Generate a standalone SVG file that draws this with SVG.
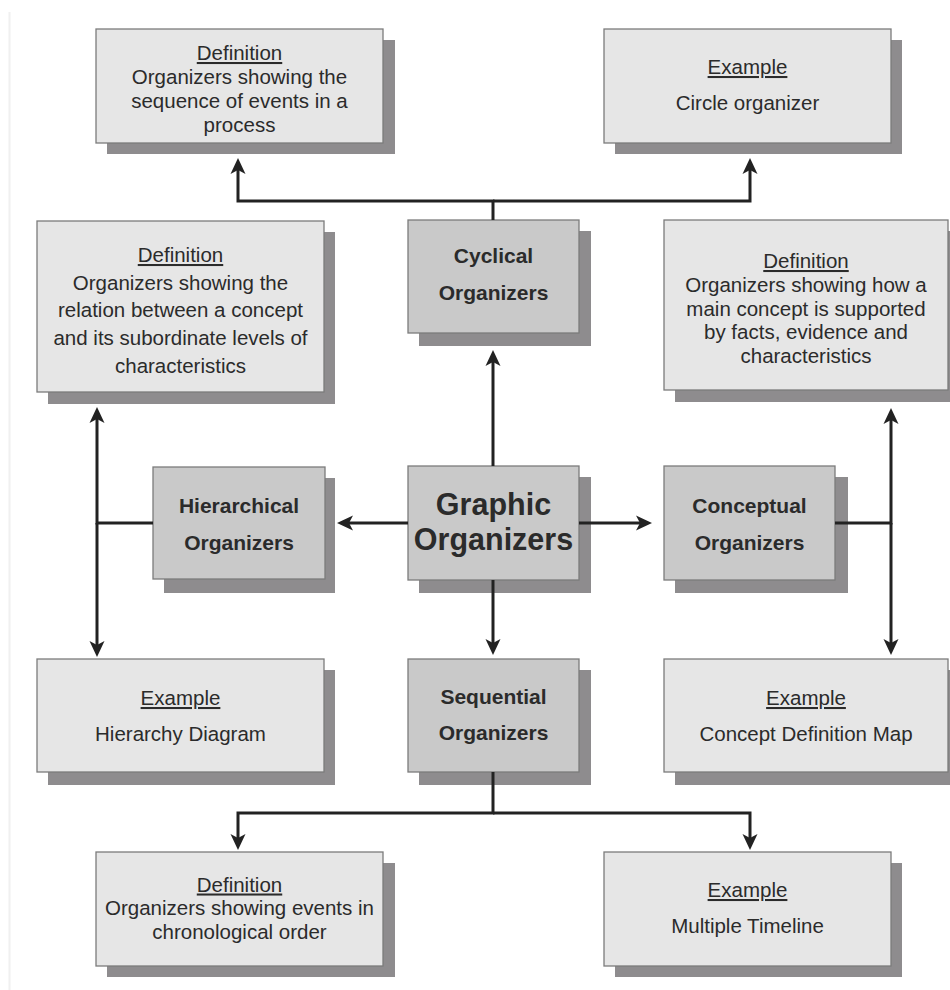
<svg xmlns="http://www.w3.org/2000/svg" width="950" height="990" viewBox="0 0 950 990">
<defs>
<style>
.sh{fill:#8e8c8e}
.lt{fill:#e6e6e6;stroke:#7c7c7c;stroke-width:1.3}
.dk{fill:#c9c9c9;stroke:#7c7c7c;stroke-width:1.3}
text{font-family:"Liberation Sans",Arial,sans-serif;fill:#2b2b2b;text-anchor:middle}
.t{font-size:20.5px}
.u{font-size:20.5px;text-decoration:underline}
.b{font-size:21px;font-weight:bold}
.g{font-size:30.5px;font-weight:bold}
.c{fill:none;stroke:#222;stroke-width:3}
</style>
<marker id="ah" markerUnits="userSpaceOnUse" markerWidth="20" markerHeight="20" viewBox="0 -10 20 20" refX="8" refY="0" orient="auto" overflow="visible">
<path d="M16,0 L0,-7.5 L4,0 L0,7.5 Z" fill="#222"/>
</marker>
</defs>
<rect width="950" height="990" fill="#fff"/>
<line x1="9.5" y1="12" x2="9.5" y2="990" stroke="#f0f0f0" stroke-width="2"/>

<g id="def-cyclical">
<rect class="sh" x="107" y="40" width="288" height="114"/>
<rect class="lt" x="96" y="29" width="287" height="114"/>
<text class="u" x="239.5" y="60">Definition</text>
<text class="t" x="239.5" y="84">Organizers showing the</text>
<text class="t" x="239.5" y="108">sequence of events in a</text>
<text class="t" x="239.5" y="132">process</text>
</g>
<g id="ex-cyclical">
<rect class="sh" x="615" y="40" width="287" height="114"/>
<rect class="lt" x="604" y="29" width="287" height="114"/>
<text class="u" x="747.5" y="74">Example</text>
<text class="t" x="747.5" y="110">Circle organizer</text>
</g>
<g id="def-hierarchical">
<rect class="sh" x="48" y="232" width="287" height="172"/>
<rect class="lt" x="37" y="221" width="287" height="171"/>
<text class="u" x="180.5" y="262">Definition</text>
<text class="t" x="180.5" y="290">Organizers showing the</text>
<text class="t" x="180.5" y="317">relation between a concept</text>
<text class="t" x="180.5" y="345">and its subordinate levels of</text>
<text class="t" x="180.5" y="373">characteristics</text>
</g>
<g id="cyclical">
<rect class="sh" x="419" y="231" width="172" height="115"/>
<rect class="dk" x="408" y="220" width="171" height="113"/>
<text class="b" x="493.5" y="263">Cyclical</text>
<text class="b" x="493.5" y="300">Organizers</text>
</g>
<g id="def-conceptual">
<rect class="sh" x="675" y="231" width="275" height="171"/>
<rect class="lt" x="664" y="220" width="284" height="170"/>
<text class="u" x="806" y="268">Definition</text>
<text class="t" x="806" y="292">Organizers showing how a</text>
<text class="t" x="806" y="315.5">main concept is supported</text>
<text class="t" x="806" y="339">by facts, evidence and</text>
<text class="t" x="806" y="362.5">characteristics</text>
</g>
<g id="hierarchical">
<rect class="sh" x="164" y="478" width="171" height="115"/>
<rect class="dk" x="153" y="467" width="172" height="112"/>
<text class="b" x="239" y="513">Hierarchical</text>
<text class="b" x="239" y="550">Organizers</text>
</g>
<g id="graphic">
<rect class="sh" x="419" y="477" width="172" height="116"/>
<rect class="dk" x="408" y="466" width="171" height="114"/>
<text class="g" x="493.5" y="515">Graphic</text>
<text class="g" x="493.5" y="550">Organizers</text>
</g>
<g id="conceptual">
<rect class="sh" x="675" y="477" width="173" height="116"/>
<rect class="dk" x="664" y="466" width="171" height="114"/>
<text class="b" x="749.5" y="513">Conceptual</text>
<text class="b" x="749.5" y="550">Organizers</text>
</g>
<g id="ex-hierarchical">
<rect class="sh" x="48" y="670" width="287" height="115"/>
<rect class="lt" x="37" y="659" width="287" height="113"/>
<text class="u" x="180.5" y="705">Example</text>
<text class="t" x="180.5" y="741">Hierarchy Diagram</text>
</g>
<g id="sequential">
<rect class="sh" x="419" y="670" width="172" height="115"/>
<rect class="dk" x="408" y="659" width="171" height="113"/>
<text class="b" x="493.5" y="704">Sequential</text>
<text class="b" x="493.5" y="740">Organizers</text>
</g>
<g id="ex-conceptual">
<rect class="sh" x="675" y="670" width="275" height="115"/>
<rect class="lt" x="664" y="659" width="284" height="113"/>
<text class="u" x="806" y="705">Example</text>
<text class="t" x="806" y="741">Concept Definition Map</text>
</g>
<g id="def-sequential">
<rect class="sh" x="107" y="863" width="288" height="114"/>
<rect class="lt" x="96" y="852" width="287" height="114"/>
<text class="u" x="239.5" y="891.5">Definition</text>
<text class="t" x="239.5" y="915">Organizers showing events in</text>
<text class="t" x="239.5" y="938.5">chronological order</text>
</g>
<g id="ex-sequential">
<rect class="sh" x="615" y="863" width="287" height="114"/>
<rect class="lt" x="604" y="852" width="287" height="114"/>
<text class="u" x="747.5" y="897">Example</text>
<text class="t" x="747.5" y="933">Multiple Timeline</text>
</g>

<g id="connectors">
<path class="c" d="M493,220 V201 H238 V166" marker-end="url(#ah)"/>
<path class="c" d="M493,201 H750 V166" marker-end="url(#ah)"/>
<path class="c" d="M493,466 V358" marker-end="url(#ah)"/>
<path class="c" d="M408,523 H345" marker-end="url(#ah)"/>
<path class="c" d="M579,523 H644" marker-end="url(#ah)"/>
<path class="c" d="M493,580 V647" marker-end="url(#ah)"/>
<path class="c" d="M153,523 H97 V415" marker-end="url(#ah)"/>
<path class="c" d="M97,523 V649" marker-end="url(#ah)"/>
<path class="c" d="M835,523 H891 V416" marker-end="url(#ah)"/>
<path class="c" d="M891,523 V647" marker-end="url(#ah)"/>
<path class="c" d="M493,772 V813 H238 V842" marker-end="url(#ah)"/>
<path class="c" d="M493,813 H750 V842" marker-end="url(#ah)"/>
</g>
</svg>
